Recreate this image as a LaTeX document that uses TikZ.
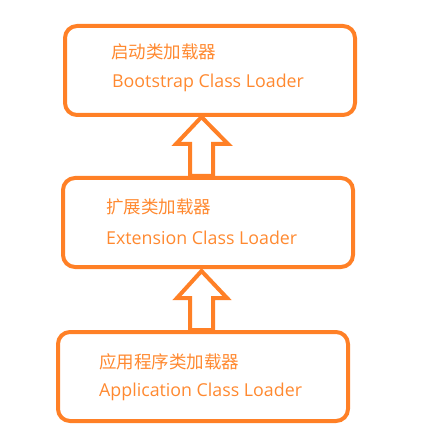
\documentclass[tikz,border=0pt]{standalone}
\usepackage{fontspec}
\setmainfont{Open Sans}
\newfontfamily\cjk{Noto Sans CJK SC}
\definecolor{org}{RGB}{255,128,38}
\definecolor{orgtxt}{RGB}{255,137,48}
\begin{document}
\begin{tikzpicture}[x=1pt,y=-1pt,
  box/.style={draw=org,line width=4pt,rounded corners=12pt},
  cn/.style={anchor=west,text=orgtxt,inner sep=0pt,font=\cjk\fontsize{17.5}{18}\selectfont},
  en/.style={anchor=west,text=orgtxt,inner sep=0pt,font=\fontsize{17.8}{18}\selectfont},
  barrow/.style={draw=org,line width=4pt,line join=miter,fill=white}]
\useasboundingbox (0,0) rectangle (425,443);
% boxes
\draw[box] (65,26) rectangle (355,115);
\draw[box] (63,178) rectangle (353,267);
\draw[box] (58,332) rectangle (348,421);
\node[cn] (c1) at (111,52) {启动类加载器};
\node[en] (e1) at (112,83) {Bootstrap Class Loader};
\node[cn] (c2) at (106,207) {扩展类加载器};
\node[en] (e2) at (106,238) {Extension Class Loader};
\node[cn] (c3) at (99,362) {应用程序类加载器};
\node[en] (e3) at (99,392) {Application Class Loader};
% block arrows
\draw[barrow] (201.5,117) -- (228,144) -- (213,144) -- (213,176) -- (190,176) -- (190,144) -- (176,144) -- cycle;
\draw[barrow] (201.5,271) -- (227,298) -- (213,298) -- (213,330) -- (190,330) -- (190,298) -- (177,298) -- cycle;
\end{tikzpicture}
\end{document}
